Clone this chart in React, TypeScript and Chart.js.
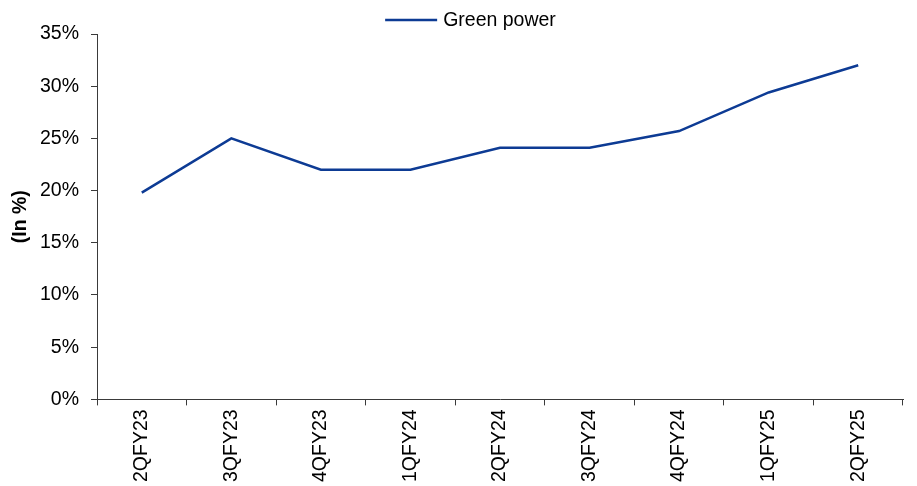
import React, { useEffect, useRef } from "react";
import { Chart, registerables } from "chart.js";

Chart.register(...registerables);

const quarters = [
  "2QFY23",
  "3QFY23",
  "4QFY23",
  "1QFY24",
  "2QFY24",
  "3QFY24",
  "4QFY24",
  "1QFY25",
  "2QFY25",
];

// Share of green power in the mix, in percent
const greenPower = [19.8, 25.0, 22.0, 22.0, 24.1, 24.1, 25.7, 29.4, 32.0];

const seriesName = "Green power";
const axisTitle = "(In %)";

const FONT = "'Liberation Sans', Arial, sans-serif";
const LINE_COLOR = "#0d3b94";
const AXIS_COLOR = "#3a3a3a";

// Draws a single-entry legend (line sample followed by the label) above the plot
const lineLegend = {
  id: "lineLegend",
  afterDraw(chart: Chart) {
    const ds = chart.data.datasets[0] as any;
    const ctx = chart.ctx;
    ctx.save();
    ctx.font = `19.5px ${FONT}`;
    const sample = 52;
    const gap = 6;
    const tw = ctx.measureText(ds.label).width;
    const total = sample + gap + tw;
    const x0 = chart.width / 2 - total / 2 + 12;
    const y = 20;
    ctx.strokeStyle = ds.borderColor;
    ctx.lineWidth = 2.5;
    ctx.beginPath();
    ctx.moveTo(x0, y);
    ctx.lineTo(x0 + sample, y);
    ctx.stroke();
    ctx.fillStyle = "#000";
    ctx.textBaseline = "middle";
    ctx.textAlign = "left";
    ctx.fillText(ds.label, x0 + sample + gap, y + 1);
    ctx.restore();
  },
};

export default function App() {
  const canvasRef = useRef<HTMLCanvasElement | null>(null);

  useEffect(() => {
    if (!canvasRef.current) return;
    const chart = new Chart(canvasRef.current, {
      type: "line",
      data: {
        labels: quarters,
        datasets: [
          {
            label: seriesName,
            data: greenPower,
            borderColor: LINE_COLOR,
            backgroundColor: LINE_COLOR,
            borderWidth: 2.5,
            pointRadius: 0,
            tension: 0,
            fill: false,
          },
        ],
      },
      options: {
        animation: false,
        responsive: true,
        maintainAspectRatio: false,
        layout: { padding: { top: 34, right: 14, bottom: 0, left: 0 } },
        plugins: {
          legend: { display: false },
          tooltip: { enabled: false },
        },
        scales: {
          x: {
            offset: true,
            grid: {
              offset: true,
              drawOnChartArea: false,
              drawTicks: true,
              tickLength: 6,
              color: AXIS_COLOR,
            },
            border: { display: true, color: AXIS_COLOR, width: 1 },
            ticks: {
              autoSkip: false,
              minRotation: 90,
              maxRotation: 90,
              padding: 4,
              color: "#000",
              font: { family: FONT, size: 19.5 },
            },
          },
          y: {
            min: 0,
            max: 35,
            afterFit(scale: any) {
              scale.width = 97;
            },
            grid: {
              drawOnChartArea: false,
              drawTicks: true,
              tickLength: 6,
              color: AXIS_COLOR,
            },
            border: { display: true, color: AXIS_COLOR, width: 1 },
            ticks: {
              stepSize: 5,
              padding: 12,
              color: "#000",
              font: { family: FONT, size: 19.5 },
              callback: (v: any) => `${v}%`,
            },
            title: {
              display: true,
              text: axisTitle,
              color: "#000",
              padding: { top: 9, bottom: 0 },
              font: { family: FONT, size: 19.5, weight: "bold", lineHeight: 1.2 },
            },
          },
        },
      },
      plugins: [lineLegend],
    });
    return () => chart.destroy();
  }, []);

  return (
    <div
      style={{
        position: "absolute",
        left: 0,
        top: 0,
        width: 917,
        height: 486,
        background: "#fff",
      }}
    >
      <canvas ref={canvasRef} />
    </div>
  );
}
